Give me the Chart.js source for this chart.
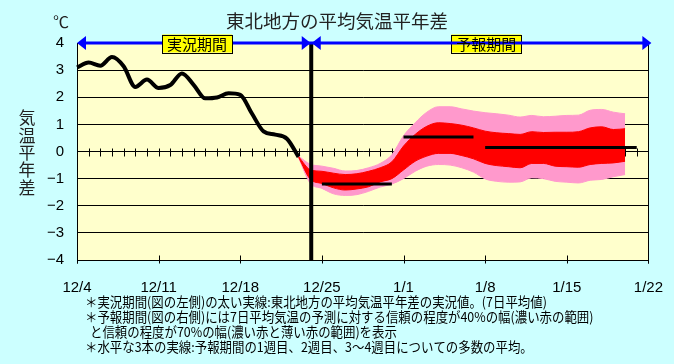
<!DOCTYPE html>
<html><head><meta charset="utf-8">
<script src="https://cdn.jsdelivr.net/npm/chart.js@4"></script>
<style>html,body{margin:0;padding:0;background:#ccffff;overflow:hidden}canvas{display:block}</style>
</head><body>
<canvas id="c" width="674" height="364" style="width:674px;height:364px"></canvas>
<script>
// ---- data ----
const dates = ['12/4','12/5','12/6','12/7','12/8','12/9','12/10','12/11','12/12','12/13','12/14','12/15','12/16','12/17','12/18','12/19','12/20','12/21','12/22','12/23','12/24','12/25','12/26','12/27','12/28','12/29','12/30','12/31',
  '1/1','1/2','1/3','1/4','1/5','1/6','1/7','1/8','1/9','1/10','1/11','1/12','1/13','1/14','1/15','1/16','1/17','1/18','1/19','1/20','1/21','1/22'];
const tickLabels = ['12/4','12/11','12/18','12/25','1/1','1/8','1/15','1/22'];
const yTickValues = [-4,-3,-2,-1,0,1,2,3,4];

// observed 7-day mean anomaly, 12/4 .. 12/23
const observedStart = '12/4';
const observed = [3.1,3.28,3.16,3.48,3.14,2.38,2.65,2.34,2.45,2.88,2.46,1.96,1.99,2.15,2.09,1.4,0.74,0.62,0.47,-0.2];

// forecast bands, 12/23 .. 1/20
const bandStart = '12/23';
const upper70 = [-0.17,-0.47,-0.54,-0.62,-0.72,-0.70,-0.60,-0.44,-0.12,0.58,1.06,1.45,1.65,1.65,1.57,1.49,1.43,1.39,1.34,1.27,1.33,1.28,1.30,1.33,1.34,1.52,1.55,1.45,1.39];
const upper40 = [-0.19,-0.67,-0.73,-0.80,-0.85,-0.82,-0.73,-0.60,-0.38,0.20,0.63,0.93,1.06,1.03,0.97,0.87,0.75,0.69,0.66,0.63,0.73,0.70,0.71,0.71,0.73,0.87,0.91,0.81,0.84];
const lower40 = [-0.21,-1.02,-1.18,-1.34,-1.42,-1.38,-1.30,-1.12,-1.00,-0.68,-0.36,-0.17,-0.07,-0.07,-0.15,-0.27,-0.44,-0.52,-0.56,-0.60,-0.44,-0.44,-0.54,-0.56,-0.58,-0.48,-0.44,-0.42,-0.36];
const lower70 = [-0.23,-1.17,-1.36,-1.56,-1.62,-1.59,-1.47,-1.31,-1.20,-1.00,-0.73,-0.54,-0.48,-0.50,-0.60,-0.76,-1.01,-1.10,-1.13,-1.12,-0.97,-1.00,-1.10,-1.13,-1.16,-1.06,-1.03,-0.93,-0.85];

// weekly ensemble means (week1, week2, weeks3-4)
const weekStart = ['12/25','1/1','1/8'];
const weekEnd   = ['12/31','1/7','1/21'];
const weekMean  = [-1.2, 0.53, 0.15];

const splitDate = '12/24';
const periodLabels = ['実況期間','予報期間'];
const titleText = '東北地方の平均気温平年差';
const yTitle = '気温平年差';
const notes = [
  '＊実況期間(図の左側)の太い実線:東北地方の平均気温平年差の実況値。(7日平均値)',
  '＊予報期間(図の右側)には7日平均気温の予測に対する信頼の程度が40%の幅(濃い赤の範囲)',
  'と信頼の程度が70%の幅(濃い赤と薄い赤の範囲)を表示',
  '＊水平な3本の実線:予報期間の1週目、2週目、3〜4週目についての多数の平均。'
];

// ---- helpers ----
function place(startLabel, values){
  const arr = new Array(dates.length).fill(null);
  const s = dates.indexOf(startLabel);
  values.forEach((v,i)=>{arr[s+i]=v;});
  return arr;
}
function span(a,b,v){
  const arr = new Array(dates.length).fill(null);
  for(let i=dates.indexOf(a);i<=dates.indexOf(b);i++) arr[i]=v;
  return arr;
}

const CJK = '"Noto Sans CJK JP", "Noto Sans", sans-serif';
const PINK = '#ff99cc', RED = '#ff0000';

const decor = {
  id:'decor',
  beforeDraw(chart){
    const {ctx, chartArea:a} = chart;
    ctx.save();
    ctx.fillStyle='#ccffff'; ctx.fillRect(0,0,chart.width,chart.height);
    ctx.fillStyle='#ffffcc'; ctx.fillRect(a.left,a.top,a.right-a.left,a.bottom-a.top);
    ctx.restore();
  },
  beforeDatasetsDraw(chart){
    const {ctx, chartArea:a, scales:{x,y}} = chart;
    ctx.save();
    ctx.strokeStyle='#000'; ctx.lineWidth=1;
    const y0 = Math.round(y.getPixelForValue(0))+0.5;
    ctx.beginPath();
    for(let i=1;i<dates.length-1;i++){
      const px = Math.round(x.getPixelForValue(i))+0.5;
      ctx.moveTo(px,y0-4); ctx.lineTo(px,y0+4);
    }
    const yb = Math.round(a.bottom)+0.5;
    tickLabels.forEach(l=>{
      const px = Math.round(x.getPixelForValue(dates.indexOf(l)))+0.5;
      ctx.moveTo(px,yb-5); ctx.lineTo(px,yb+3);
    });
    const xr = Math.round(a.right)+0.5, xl = Math.round(a.left)+0.5;
    ctx.moveTo(xr,a.top); ctx.lineTo(xr,yb+3);
    ctx.moveTo(xl,yb); ctx.lineTo(xl,yb+3);
    ctx.stroke();
    ctx.restore();
  },
  afterDatasetsDraw(chart){
    const {ctx, chartArea:a, scales:{x,y}} = chart;
    ctx.save();
    const xs = x.getPixelForValue(dates.indexOf(splitDate))+1;
    ctx.fillStyle='#000';
    ctx.fillRect(xs-2, a.top, 4, a.bottom-a.top);
    const ya = y.getPixelForValue(4);
    const xl = a.left, xr = a.right+3;
    const box = (cx)=>{
      const w = 70, h = 18;
      ctx.fillStyle='#ffff00'; ctx.fillRect(cx-w/2, ya-8.5, w, h);
      ctx.strokeStyle='#000'; ctx.lineWidth=1;
      ctx.strokeRect(Math.round(cx-w/2)+0.5, Math.round(ya-8.5)+0.5, w, h);
    };
    const txt = (cx,label)=>{
      ctx.font = '15px '+CJK; ctx.fillStyle='#000';
      ctx.textAlign='center'; ctx.textBaseline='middle';
      ctx.fillText(label, cx, ya+1);
    };
    const c1 = x.getPixelForValue(10.3), c2 = x.getPixelForValue(35.1);
    box(c2);
    ctx.strokeStyle='#0000ff'; ctx.lineWidth=3;
    ctx.beginPath(); ctx.moveTo(xl+4,ya); ctx.lineTo(xr-4,ya); ctx.stroke();
    ctx.fillStyle='#0000ff';
    const tri=(tip,dir)=>{ctx.beginPath();ctx.moveTo(tip,ya);ctx.lineTo(tip+dir*9,ya-7);ctx.lineTo(tip+dir*9,ya+7);ctx.closePath();ctx.fill();};
    tri(xl,1); tri(xs-0.5,-1); tri(xs+0.5,1); tri(xr,-1);
    txt(c2, periodLabels[1]);
    box(c1); txt(c1, periodLabels[0]);
    ctx.restore();
  },
  afterDraw(chart){
    const {ctx} = chart;
    ctx.save();
    ctx.fillStyle='#222'; ctx.textAlign='center'; ctx.textBaseline='middle';
    ctx.font='18.5px '+CJK;
    ctx.fillText(titleText, 337, 20.5);
    ctx.font='16px '+CJK;
    ctx.fillText('℃', 61, 22);
    ctx.font='17px '+CJK;
    [...yTitle].forEach((ch,i)=>ctx.fillText(ch, 27, 118+i*17.3));
    ctx.fillStyle='#000'; ctx.textAlign='left';
    ctx.font='13.5px '+CJK;
    const xs=[85,85,90,85], ys=[301.5,316.8,332,347.3];
    notes.forEach((t,i)=>{
      ctx.save(); ctx.translate(xs[i], ys[i]); ctx.scale(0.92,1);
      ctx.fillText(t, 0, 0); ctx.restore();
    });
    ctx.restore();
  }
};

new Chart(document.getElementById('c'), {
  type:'line',
  data:{
    labels: dates,
    datasets:[
      {data: place(observedStart, observed), borderColor:'#000', borderWidth:4, pointRadius:0, cubicInterpolationMode:'monotone', fill:false, order:1},
      {data: span(weekStart[0],weekEnd[0],weekMean[0]), borderColor:'#000', borderWidth:3, pointRadius:0, fill:false, order:1},
      {data: span(weekStart[1],weekEnd[1],weekMean[1]), borderColor:'#000', borderWidth:3, pointRadius:0, fill:false, order:1},
      {data: span(weekStart[2],weekEnd[2],weekMean[2]), borderColor:'#000', borderWidth:3, pointRadius:0, fill:false, order:1},
      {data: place(bandStart, upper40), borderColor:RED, borderWidth:1, backgroundColor:RED, pointRadius:0, cubicInterpolationMode:'monotone', fill:{target:5}, order:2},
      {data: place(bandStart, lower40), borderColor:RED, borderWidth:1, pointRadius:0, cubicInterpolationMode:'monotone', fill:false, order:2},
      {data: place(bandStart, upper70), borderColor:PINK, borderWidth:1, backgroundColor:PINK, pointRadius:0, cubicInterpolationMode:'monotone', fill:{target:7}, order:3},
      {data: place(bandStart, lower70), borderColor:PINK, borderWidth:1, pointRadius:0, cubicInterpolationMode:'monotone', fill:false, order:3}
    ]
  },
  options:{
    responsive:false, animation:false, devicePixelRatio:1,
    layout:{padding:{left:0, right:24, top:43, bottom:0}},
    plugins:{legend:{display:false}, tooltip:{enabled:false}, title:{display:false}},
    scales:{
      x:{
        type:'category', offset:false,
        grid:{display:false},
        border:{display:true, color:'#000', width:1},
        ticks:{autoSkip:false, maxRotation:0, minRotation:0, padding:11, color:'#000',
          font:{family:'"Liberation Sans", Arial, sans-serif', size:15},
          callback:function(v){const l=this.getLabelForValue(v);return tickLabels.includes(l)?l:'';}},
        afterFit:s=>{s.height=104;}
      },
      y:{
        min:-4, max:4,
        afterBuildTicks:s=>{s.ticks=yTickValues.map(v=>({value:v}));},
        grid:{color:'#000', lineWidth:1, drawTicks:false},
        border:{display:true, color:'#000', width:1},
        ticks:{padding:13, color:'#000', font:{family:'"Liberation Sans", Arial, sans-serif', size:15},
          callback:v=> v<0 ? '−'+(-v) : String(v)},
        afterFit:s=>{s.width=77;}
      }
    }
  },
  plugins:[decor]
});
</script>
</body></html>
